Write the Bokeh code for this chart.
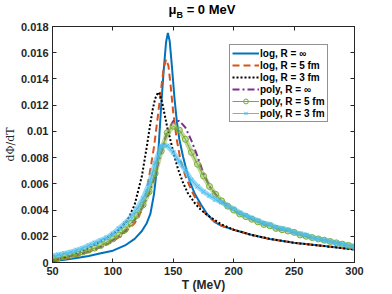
from bokeh.plotting import figure
from bokeh.layouts import column
from bokeh.models import (Range1d, LinearAxis, FixedTicker, Legend, Div,
                          LegendItem, NumeralTickFormatter, CustomJSTickFormatter)
from bokeh.embed import file_html
from bokeh.resources import INLINE

# ---------------- data ----------------
T_log_inf = [50, 60, 70, 80, 90, 100, 110, 118, 124, 128, 131, 134, 136, 138,
             140, 142, 144, 145.5, 147, 149, 151, 153, 155, 158, 161, 164, 168,
             173, 178, 184, 190, 200, 215, 230, 250, 275, 300]
log_inf = [0.0001, 0.0002, 0.00035, 0.0005, 0.0007, 0.0009, 0.0013, 0.0018,
           0.0024, 0.003, 0.0037, 0.0052, 0.0068, 0.009, 0.012, 0.0146, 0.0168,
           0.0175, 0.0169, 0.0148, 0.0125, 0.0107, 0.0094, 0.0081, 0.007,
           0.0061, 0.0052, 0.0044, 0.0037, 0.0031, 0.0028, 0.0025, 0.0021,
           0.0018, 0.0015, 0.00125, 0.001]

T_log_5 = [50, 60, 70, 80, 90, 100, 110, 118, 124, 128, 131, 134, 137, 140,
           142, 144, 146, 148, 150, 153, 156, 160, 165, 170, 175, 180, 190, 200,
           215, 230, 250, 275, 300]
log_5 = [0.0001, 0.0003, 0.0005, 0.0008, 0.0012, 0.0016, 0.0023, 0.003, 0.004,
         0.0055, 0.0071, 0.0088, 0.011, 0.0133, 0.0148, 0.0155, 0.015, 0.0133,
         0.0114, 0.0093, 0.0078, 0.0066, 0.0055, 0.0046, 0.0039, 0.0034,
         0.0028, 0.0025, 0.0021, 0.0018, 0.0015, 0.00125, 0.001]

T_log_3 = [50, 60, 70, 80, 86, 95, 105, 112, 118, 124, 128, 131, 133, 135,
           137.5, 139, 141, 143, 145, 148, 150, 154, 158, 162, 168, 173, 180,
           190, 200, 215, 230, 250, 275, 300]
log_3 = [0.0001, 0.0004, 0.0007, 0.0011, 0.0014, 0.0019, 0.0025, 0.0032,
         0.0044, 0.0066, 0.0088, 0.0106, 0.0117, 0.0125, 0.013, 0.0128, 0.0121,
         0.0112, 0.0103, 0.0092, 0.0084, 0.0071, 0.0061, 0.0053, 0.0045, 0.004,
         0.0035, 0.0029, 0.0025, 0.0021, 0.0018, 0.0015, 0.00125, 0.001]

T_poly = [50, 55, 60, 65, 70, 75, 80, 85, 90, 95, 100, 105, 110, 115, 120, 125,
          130, 135, 140, 145, 150, 155, 160, 165, 170, 175, 180, 185, 190, 195,
          200, 205, 210, 215, 220, 225, 230, 235, 240, 245, 250, 255, 260, 265,
          270, 275, 280, 285, 290, 295, 300]
poly_inf = [0.0002, 0.0003, 0.0004, 0.0005, 0.0006, 0.0007, 0.00085, 0.001,
            0.0012, 0.0014, 0.0017, 0.002, 0.0024, 0.0029, 0.0035, 0.0043,
            0.0053, 0.0067, 0.0084, 0.0100, 0.0108, 0.0108, 0.0103, 0.0093,
            0.0081, 0.0068, 0.0058, 0.0052, 0.0047, 0.0043, 0.004, 0.0037,
            0.0035, 0.0033, 0.0031, 0.0029, 0.0028, 0.0026, 0.0025, 0.0024,
            0.0023, 0.0021, 0.002, 0.0019, 0.0018, 0.0017, 0.0016, 0.0015,
            0.0014, 0.0013, 0.0012]
poly_5 = [0.0003, 0.00035, 0.00045, 0.00055, 0.00065, 0.0008, 0.00095, 0.0011,
          0.0013, 0.00155, 0.0018, 0.0021, 0.0025, 0.003, 0.0036, 0.0044,
          0.0054, 0.0068, 0.0085, 0.0099, 0.0104, 0.0101, 0.0094, 0.0084,
          0.0075, 0.0066, 0.0058, 0.0052, 0.0047, 0.0043, 0.004, 0.0037,
          0.0035, 0.0033, 0.0031, 0.0029, 0.0028, 0.0026, 0.0025, 0.0024,
          0.0023, 0.0021, 0.002, 0.0019, 0.0018, 0.0017, 0.0016, 0.0015,
          0.0014, 0.0013, 0.0012]
poly_3 = [0.0005, 0.0006, 0.0007, 0.0008, 0.00095, 0.0011, 0.0013, 0.0015,
          0.0017, 0.0019, 0.0022, 0.0026, 0.003, 0.0035, 0.0041, 0.0049,
          0.006, 0.0076, 0.0089, 0.0089, 0.0084, 0.0077, 0.007, 0.0063,
          0.0058, 0.0054, 0.0051, 0.0048, 0.0046, 0.0043, 0.0041, 0.0038,
          0.0036, 0.0034, 0.0032, 0.003, 0.0029, 0.0027, 0.0026, 0.0025,
          0.0023, 0.0022, 0.0021, 0.0019, 0.0018, 0.0017, 0.0016, 0.0015,
          0.0014, 0.0013, 0.0012]

x_ticks = [50, 100, 150, 200, 250, 300]
y_ticks = [0, 0.002, 0.004, 0.006, 0.008, 0.01, 0.012, 0.014, 0.016, 0.018]

labels = ["log, R = ∞", "log, R = 5 fm", "log, R = 3 fm",
          "poly, R = ∞", "poly, R = 5 fm", "poly, R = 3 fm"]
title_html = "μ<sub style='font-size:9px'>B</sub> = 0 MeV"
x_label = "T (MeV)"
y_label = "dΦ/dT"

# ---------------- styling ----------------
C_BLUE = "#0072BD"
C_ORANGE = "#D95319"
C_BLACK = "#000000"
C_PURPLE = "#7E2F8E"
C_GREEN = "#77AC30"
C_LBLUE = "#4DBEEE"
AX = "#262626"
FONT = "Liberation Sans"

p = figure(width=392, height=274, x_range=Range1d(50, 300),
           y_range=Range1d(0, 0.018), output_backend="svg",
           toolbar_location=None, min_border_left=50, min_border_right=38,
           min_border_top=6, min_border_bottom=31)
p.xgrid.visible = False
p.ygrid.visible = False
p.outline_line_color = AX
p.outline_line_width = 1
p.background_fill_color = "white"
p.border_fill_color = "white"

def style_axis(ax, ticks, show_labels):
    ax.ticker = FixedTicker(ticks=ticks, minor_ticks=[])
    ax.major_tick_in = 4
    ax.major_tick_out = 0
    ax.minor_tick_in = 0
    ax.minor_tick_out = 0
    ax.axis_line_color = AX
    ax.major_tick_line_color = AX
    ax.major_label_text_font = FONT
    ax.major_label_text_font_style = "bold"
    ax.major_label_text_color = "#262626"
    ax.major_label_text_font_size = "11px"
    if not show_labels:
        ax.formatter = CustomJSTickFormatter(code="return ''")
        ax.major_label_standoff = 0

style_axis(p.xaxis[0], x_ticks, True)
style_axis(p.yaxis[0], y_ticks, True)
p.yaxis[0].formatter = NumeralTickFormatter(format="0.[000]")
p.yaxis[0].major_label_standoff = 4
p.xaxis[0].major_label_standoff = 4

p.xaxis[0].axis_label = x_label
p.xaxis[0].axis_label_text_font = FONT
p.xaxis[0].axis_label_text_font_style = "bold"
p.xaxis[0].axis_label_text_font_size = "12px"
p.xaxis[0].axis_label_text_color = "#262626"
p.xaxis[0].axis_label_standoff = 0

p.yaxis[0].axis_label = y_label
p.yaxis[0].axis_label_text_font = "DejaVu Serif"
p.yaxis[0].axis_label_text_font_style = "normal"
p.yaxis[0].axis_label_text_font_size = "11px"
p.yaxis[0].axis_label_text_color = "#262626"
p.yaxis[0].axis_label_standoff = 1

top_ax = LinearAxis()
style_axis(top_ax, x_ticks, False)
p.add_layout(top_ax, "above")
right_ax = LinearAxis()
style_axis(right_ax, y_ticks, False)
p.add_layout(right_ax, "right")

r1 = p.line(T_log_inf, log_inf, line_color=C_BLUE, line_width=2)
r2 = p.line(T_log_5, log_5, line_color=C_ORANGE, line_width=2, line_dash="7 4")
r3 = p.line(T_log_3, log_3, line_color=C_BLACK, line_width=2, line_dash="2 2")
r4 = p.line(T_poly, poly_inf, line_color=C_PURPLE, line_width=2,
            line_dash="7 3 2 3")
# thick translucent band under the marker series (dense markers in reference)
p.line(T_poly, poly_5, line_color=C_GREEN, line_width=5, line_alpha=0.45)
r5 = p.line(T_poly, poly_5, line_color=C_GREEN, line_width=1)
r5m = p.scatter(T_poly, poly_5, marker="circle", size=6, fill_color=None,
                line_color=C_GREEN, line_width=1)
p.line(T_poly, poly_3, line_color=C_LBLUE, line_width=5, line_alpha=0.6)
r6 = p.line(T_poly, poly_3, line_color=C_LBLUE, line_width=1)
r6m = p.scatter(T_poly, poly_3, marker="x", size=6, line_color=C_LBLUE,
                line_width=1)

legend = Legend(items=[
    LegendItem(label=labels[0], renderers=[r1]),
    LegendItem(label=labels[1], renderers=[r2]),
    LegendItem(label=labels[2], renderers=[r3]),
    LegendItem(label=labels[3], renderers=[r4]),
    LegendItem(label=labels[4], renderers=[r5, r5m]),
    LegendItem(label=labels[5], renderers=[r6, r6m]),
], location=(177, 140))
legend.label_text_font = FONT
legend.label_text_font_style = "bold"
legend.label_text_font_size = "10px"
legend.label_text_color = "#000000"
legend.glyph_width = 27
legend.glyph_height = 12
legend.label_height = 12
legend.label_standoff = 1
legend.spacing = 0
legend.padding = 2
legend.margin = 0
legend.border_line_color = AX
legend.border_line_width = 1
legend.background_fill_alpha = 1
p.add_layout(legend, "center")

title = Div(text=("<div style=\"width:392px;height:20px;padding-left:12px;"
                  "box-sizing:border-box;text-align:center;"
                  "font-family:'Liberation Sans';font-weight:bold;"
                  "font-size:13px;line-height:20px;color:#000\">"
                  + title_html + "</div>"),
            width=392, height=20, margin=(0, 0, 0, 0))

layout = column(title, p, spacing=0)
open("out.html", "w").write(file_html(layout, INLINE))
